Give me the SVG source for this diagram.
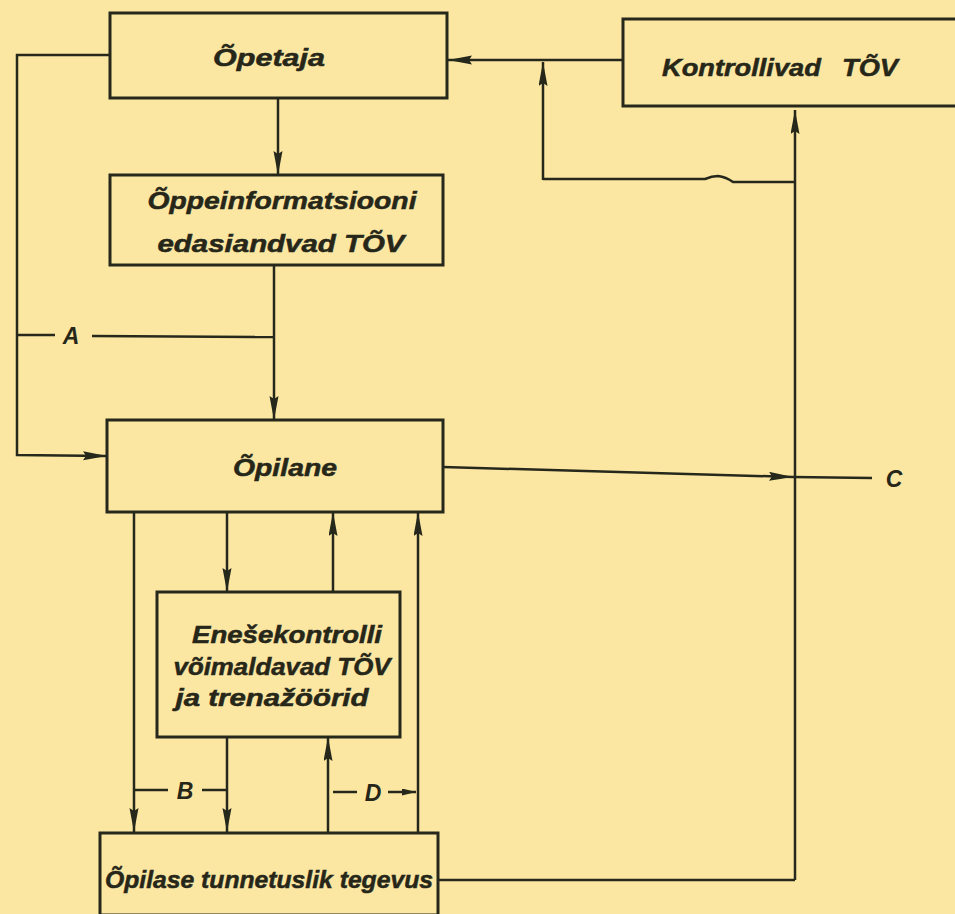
<svg xmlns="http://www.w3.org/2000/svg" width="955" height="914" viewBox="0 0 955 914">
<defs>
<marker id="ah" markerUnits="userSpaceOnUse" markerWidth="26" markerHeight="10" refX="24" refY="4.5" orient="auto">
<path d="M0,0 L24,4.5 L0,9 L3,4.5 z" fill="#25281a"/>
</marker>
<marker id="ahs" markerUnits="userSpaceOnUse" markerWidth="16" markerHeight="8" refX="14" refY="3.5" orient="auto">
<path d="M0,0 L14,3.5 L0,7 z" fill="#25281a"/>
</marker>
<style>
.box{fill:none;stroke:#26281b;stroke-width:3}
.ln{fill:none;stroke:#26281b;stroke-width:2.5}
.ar{marker-end:url(#ah)}
.t{font-family:"Liberation Sans",Arial,sans-serif;font-weight:bold;font-style:italic;font-size:24px;fill:#262619;stroke:#262619;stroke-width:0.5;text-anchor:middle}
.lb{font-family:"Liberation Sans",Arial,sans-serif;font-weight:bold;font-style:italic;font-size:23px;fill:#262619;text-anchor:middle}
</style>
</defs>
<rect x="0" y="0" width="955" height="914" fill="#fbe7a2"/>
<g id="connectors">
<path class="ln ar" d="M622,60 L448,60"/>
<path class="ln ar" d="M543,180 L543,62"/>
<path class="ln" d="M543,179 L705,179 Q712,176 718,176 Q726,177 733,182 L795,182"/>
<path class="ln ar" d="M795,880 L795,110"/>
<path class="ln" d="M438,880 L795,880"/>
<path class="ln ar" d="M278,98 L278,175"/>
<path class="ln ar" d="M110,55 L17,55 L17,455 L107,456"/>
<path class="ln ar" d="M274,265 L274,420"/>
<path class="ln" d="M17,335 L55,335"/>
<path class="ln" d="M92,336 L274,337"/>
<path class="ln ar" d="M443,467 L793,477"/>
<path class="ln" d="M793,477 L872,478"/>
<path class="ln ar" d="M134,512 L134,832"/>
<path class="ln ar" d="M227,512 L227,592"/>
<path class="ln ar" d="M333,592 L333,512"/>
<path class="ln ar" d="M418,833 L418,512"/>
<path class="ln ar" d="M227,737 L227,832"/>
<path class="ln ar" d="M328,833 L328,737"/>
<path class="ln" d="M134,790 L168,790"/>
<path class="ln" d="M202,790 L227,790"/>
<path class="ln" d="M333,792 L357,792"/>
<path class="ln" d="M388,792 L416,792" marker-end="url(#ahs)"/>
</g>
<g id="labels">
<text class="lb" x="71" y="344">A</text>
<text class="lb" x="894" y="487">C</text>
<text class="lb" x="185" y="799">B</text>
<text class="lb" x="373" y="801">D</text>
</g>
<g id="opetaja">
<rect class="box" x="110" y="13" width="337" height="85"/>
<text class="t" x="269" y="66" textLength="112" lengthAdjust="spacingAndGlyphs">Õpetaja</text>
</g>
<g id="kontrollivad">
<rect class="box" x="623" y="19" width="340" height="87"/>
<text class="t" x="780" y="76" textLength="236" lengthAdjust="spacingAndGlyphs" word-spacing="12">Kontrollivad TÕV</text>
</g>
<g id="oppeinfo">
<rect class="box" x="110" y="175" width="333" height="90"/>
<text class="t" x="282" y="209" textLength="269" lengthAdjust="spacingAndGlyphs">Õppeinformatsiooni</text>
<text class="t" x="281" y="252" textLength="247" lengthAdjust="spacingAndGlyphs">edasiandvad TÕV</text>
</g>
<g id="opilane">
<rect class="box" x="107" y="420" width="336" height="92"/>
<text class="t" x="285" y="476" textLength="104" lengthAdjust="spacingAndGlyphs">Õpilane</text>
</g>
<g id="enesekontroll">
<rect class="box" x="157" y="592" width="243" height="145"/>
<text class="t" x="287" y="643" textLength="190" lengthAdjust="spacingAndGlyphs">Enešekontrolli</text>
<text class="t" x="282" y="675" textLength="217" lengthAdjust="spacingAndGlyphs">võimaldavad TÕV</text>
<text class="t" x="272" y="706" textLength="193" lengthAdjust="spacingAndGlyphs">ja trenažöörid</text>
</g>
<g id="tunnetuslik">
<rect class="box" x="100" y="833" width="338" height="82"/>
<text class="t" x="269" y="888" textLength="328" lengthAdjust="spacingAndGlyphs">Õpilase tunnetuslik tegevus</text>
</g>
</svg>
